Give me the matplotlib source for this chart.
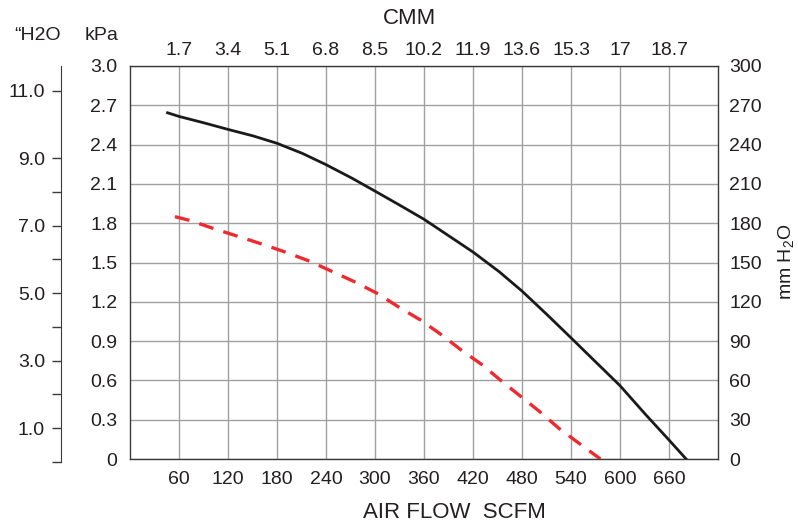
import matplotlib
matplotlib.use("Agg")
import matplotlib.pyplot as plt

plt.rcParams["font.family"] = ["Liberation Sans", "DejaVu Sans"]
plt.rcParams["mathtext.fontset"] = "custom"
plt.rcParams["mathtext.rm"] = "Liberation Sans"

TXT = "#231f20"

# air flow (SCFM) and static pressure (kPa)
scfm_ticks = [60, 120, 180, 240, 300, 360, 420, 480, 540, 600, 660]
cmm_labels = ["1.7", "3.4", "5.1", "6.8", "8.5", "10.2", "11.9", "13.6", "15.3", "17", "18.7"]
kpa_ticks = [0, 0.3, 0.6, 0.9, 1.2, 1.5, 1.8, 2.1, 2.4, 2.7, 3.0]
kpa_labels = ["0", "0.3", "0.6", "0.9", "1.2", "1.5", "1.8", "2.1", "2.4", "2.7", "3.0"]
mm_ticks = [0, 30, 60, 90, 120, 150, 180, 210, 240, 270, 300]
inh2o_major = [1, 3, 5, 7, 9, 11]
inh2o_minor = [0, 2, 4, 6, 8]

solid_x = [46, 60, 90, 120, 151, 180, 211, 240, 272, 300, 331, 360, 390, 420,
           452, 480, 511, 540, 572, 600, 632, 660, 681]
solid_y = [2.643, 2.615, 2.567, 2.516, 2.466, 2.41, 2.333, 2.247, 2.143, 2.045,
           1.935, 1.83, 1.705, 1.58, 1.43, 1.282, 1.10, 0.925, 0.73, 0.56, 0.335,
           0.145, 0]

dash_x = [55, 74, 102, 132, 162, 190, 220, 248, 276, 304, 329, 356, 381, 406, 431,
          454, 478, 502, 526, 552, 576]
dash_y = [1.85, 1.82, 1.76, 1.70, 1.64, 1.58, 1.51, 1.43, 1.35, 1.26, 1.16, 1.06,
          0.95, 0.83, 0.72, 0.60, 0.48, 0.36, 0.23, 0.11, 0]

W, H = 798, 525
fig = plt.figure(figsize=(W / 100, H / 100), dpi=100)
ax = fig.add_axes([130 / W, (H - 459) / H, 588 / W, 393 / H])

ax.plot(solid_x, solid_y, color="#1a1a1a", lw=2.0, solid_joinstyle="round", zorder=3)
ax.plot(dash_x, dash_y, color="#ee2a2f", lw=2.4, dashes=(4.5, 3.1), zorder=3)

ax.set_xlim(0, 720)
ax.set_ylim(0, 3.0)
ax.set_xticks(scfm_ticks)
ax.set_yticks(kpa_ticks)
ax.set_yticklabels(kpa_labels)
ax.grid(True, color="#a0a0a0", lw=1.0)
ax.set_axisbelow(True)
ax.tick_params(length=0, labelsize=14, labelcolor=TXT)
ax.tick_params(axis="x", pad=9)
ax.tick_params(axis="y", pad=9)
for s in ax.spines.values():
    s.set_color("#3a3a3a"); s.set_linewidth(1.0)

# top axis: CMM
axt = ax.twiny()
axt.set_xlim(ax.get_xlim())
axt.set_xticks(scfm_ticks)
axt.set_xticklabels(cmm_labels)
axt.tick_params(length=0, labelsize=14, labelcolor=TXT, pad=5)
for s in axt.spines.values():
    s.set_visible(False)

# right axis: mm H2O
axr = ax.twinx()
axr.set_ylim(0, 300)
axr.set_yticks(mm_ticks)
axr.tick_params(length=0, labelsize=14, labelcolor=TXT, pad=8)
for s in axr.spines.values():
    s.set_visible(False)

# far-left axis: inches H2O
top_in = (462 - 66) / 33.77
axl = fig.add_axes([61 / W, (H - 462) / H, 0.0001, 396 / H])
axl.set_ylim(0, top_in)
axl.set_xticks([])
axl.set_yticks(inh2o_major)
axl.set_yticklabels([f"{v:.1f}" for v in inh2o_major])
axl.set_yticks(inh2o_minor, minor=True)
axl.tick_params(which="both", length=6.5, width=1.0, color="#3a3a3a",
                labelsize=14, labelcolor=TXT, pad=5)
for k in ["top", "right", "bottom"]:
    axl.spines[k].set_visible(False)
axl.spines["left"].set_color("#3a3a3a")
axl.patch.set_visible(False)

fig.text(38 / W, 1 - 35 / H, "\u201cH2O", ha="center", va="center", fontsize=14, color=TXT)
fig.text(102 / W, 1 - 35 / H, "kPa", ha="center", va="center", fontsize=14, color=TXT)
fig.text(410 / W, 1 - 18 / H, "CMM", ha="center", va="center", fontsize=16, color=TXT)
fig.text(454 / W, 1 - 512 / H, "AIR FLOW  SCFM", ha="center", va="center", fontsize=16, color=TXT)
fig.text(787 / W, 1 - 262 / H, r"mm H$_\mathrm{2}$O", ha="center", va="center",
         rotation=90, fontsize=14, color=TXT)

fig.savefig("out.png", dpi=100)
